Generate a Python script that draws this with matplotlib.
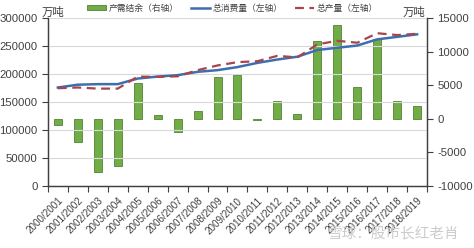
import numpy as np
import matplotlib
matplotlib.use('Agg')
import matplotlib.pyplot as plt
from matplotlib.ticker import FixedLocator

plt.rcParams['font.family'] = ['Liberation Sans', 'Noto Sans CJK SC']
plt.rcParams['axes.unicode_minus'] = False

seasons = ['2000/2001', '2001/2002', '2002/2003', '2003/2004', '2004/2005',
           '2005/2006', '2006/2007', '2007/2008', '2008/2009', '2009/2010',
           '2010/2011', '2011/2012', '2012/2013', '2013/2014', '2014/2015',
           '2015/2016', '2016/2017', '2017/2018', '2018/2019']

# total consumption (left axis, 万吨)
consumption = [176000, 181000, 182000, 182000, 192000, 195500, 198000, 204000,
               207000, 212500, 220000, 226000, 231000, 243000, 247000, 251000,
               262000, 266500, 271000]
# total production (left axis, 万吨)
production = [174700, 176000, 174000, 174000, 195500, 195000, 196000, 207000,
              215400, 221300, 223000, 232600, 229700, 253000, 259500, 256000,
              273000, 269700, 272000]
# surplus (right axis, 万吨)
surplus = [-900, -3500, -7900, -7000, 5400, 500, -2000, 1200, 6300, 6500,
           -150, 2700, 650, 11600, 13900, 4700, 11900, 2700, 1900]

x = np.arange(len(seasons))

fig = plt.figure(figsize=(4.74, 2.48), dpi=100)
ax = fig.add_axes([0.101, 0.25, 0.800, 0.677])
ax2 = ax.twinx()

# bars on the right axis, drawn below the lines
ax.set_zorder(ax2.get_zorder() + 1)
ax.patch.set_visible(False)

bars = ax2.bar(x, surplus, width=0.4, color='#70ad47', edgecolor='#538135',
               linewidth=0.6, label='产需结余（右轴）')
ln1, = ax.plot(x, consumption, color='#3d6fae', linewidth=1.8,
               label='总消费量（左轴）')
ln2, = ax.plot(x, production, color='#a8444c', linewidth=1.6,
               linestyle=(0, (4, 2.5)), label='总产量（左轴）')

ax.set_xlim(-0.5, len(seasons) - 0.5)
ax.set_ylim(0, 300000)
ax2.set_ylim(-10000, 15000)
ax.set_yticks(np.arange(0, 300001, 50000))
ax2.set_yticks(np.arange(-10000, 15001, 5000))

ax.yaxis.grid(True, color='#d9d9d9', linewidth=0.8)
ax.set_axisbelow(True)

ax.set_xticks(x)
ax.set_xticklabels(seasons, rotation=45, ha='right', rotation_mode='anchor',
                   fontsize=7.1, color='#404040')
ax.tick_params(axis='x', length=0, pad=7)
ax.xaxis.set_minor_locator(FixedLocator(np.arange(-0.5, len(seasons), 1)))
ax.tick_params(axis='x', which='minor', length=4, color='#404040', width=0.8)

ax.tick_params(axis='y', labelsize=8.2, labelcolor='#404040', length=4,
               color='#404040', width=0.8)
ax2.tick_params(axis='y', labelsize=8.2, labelcolor='#404040', length=4,
                color='#404040', width=0.8)

for a in (ax, ax2):
    a.spines['top'].set_visible(False)
    for s in ('left', 'right', 'bottom'):
        a.spines[s].set_color('#404040')
        a.spines[s].set_linewidth(0.9)

fig.text(0.088, 0.952, '万吨', fontsize=8.2, color='#404040', ha='left', va='center')
fig.text(0.850, 0.952, '万吨', fontsize=8.2, color='#404040', ha='left', va='center')

fig.legend(handles=[bars, ln1, ln2], loc='center', bbox_to_anchor=(0.49, 0.966),
           ncol=3, frameon=False, fontsize=6.3, handlelength=2.2,
           handleheight=0.5, columnspacing=1.4, handletextpad=0.3,
           labelcolor='#404040')

fig.text(0.97, 0.06, '雪球：股市长红老肖', fontsize=10.5, color='#cccccc',
         ha='right', va='center', family=['Noto Sans CJK SC'])

fig.savefig('out.png', dpi=100)
